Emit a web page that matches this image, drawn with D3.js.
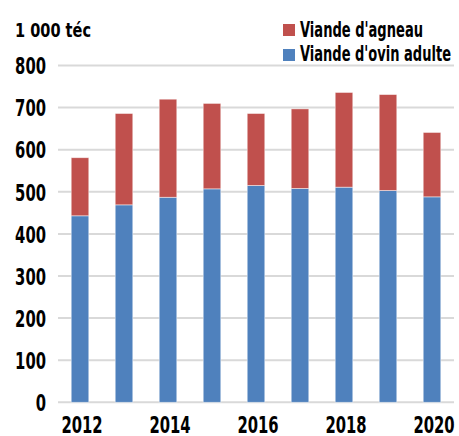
<!DOCTYPE html>
<html>
<head>
<meta charset="utf-8">
<script src="https://cdn.jsdelivr.net/npm/d3@7"></script>
<style>
  html, body { margin: 0; padding: 0; background: #fff; }
  svg text { font-family: "DejaVu Sans Condensed", "DejaVu Sans", sans-serif; font-stretch: condensed; fill: #000; }
</style>
</head>
<body>
<svg id="chart" width="459" height="436"></svg>
<script>
// Production de viande ovine, en milliers de tonnes équivalent carcasse
const years = [2012, 2013, 2014, 2015, 2016, 2017, 2018, 2019, 2020];
const ovinAdulte = [443, 469, 487, 507, 515, 508, 511, 503, 488];
const agneau = [138, 217, 233, 203, 171, 189, 225, 228, 153];
const yTicks = [0, 100, 200, 300, 400, 500, 600, 700, 800];
const xTickLabels = [2012, 2014, 2016, 2018, 2020];
const seriesNames = ["Viande d'agneau", "Viande d'ovin adulte"];
const seriesColors = { ovinAdulte: "#4F81BD", agneau: "#C0504D" };

const svg = d3.select("#chart");
const margin = { left: 58, right: 5, top: 65.5, bottom: 33.7 };
const W = 459, H = 436;
const digitW = 10.3; // advance of one digit in the condensed label face

const x = d3.scaleBand()
  .domain(years)
  .range([margin.left, W - margin.right])
  .paddingInner(0.6)
  .paddingOuter(0.3);

const y = d3.scaleLinear()
  .domain([0, 800])
  .range([H - margin.bottom, margin.top]);

// Gridlines
svg.append("g")
  .selectAll("line")
  .data(yTicks)
  .join("line")
  .attr("x1", margin.left)
  .attr("x2", W - margin.right)
  .attr("y1", d => y(d))
  .attr("y2", d => y(d))
  .attr("stroke", "#d9d9d9")
  .attr("stroke-width", 2);

// Y axis labels
const yAxis = d3.axisLeft(y).tickValues(yTicks).tickSize(0).tickPadding(0).tickFormat(d3.format("d"));
const gy = svg.append("g").attr("transform", `translate(${margin.left - 12},0)`).call(yAxis);
gy.select(".domain").remove();
gy.selectAll("text")
  .style("font-size", "23px")
  .style("font-weight", "bold")
  .attr("dy", "0.36em")
  .attr("textLength", d => String(d).length * digitW)
  .attr("lengthAdjust", "spacingAndGlyphs");

// X axis labels
const xAxis = d3.axisBottom(x).tickValues(xTickLabels).tickSize(0).tickPadding(0);
const gx = svg.append("g").attr("transform", `translate(2,${H - margin.bottom})`).call(xAxis);
gx.select(".domain").remove();
gx.selectAll("text")
  .style("font-size", "23px")
  .style("font-weight", "bold")
  .attr("y", 31)
  .attr("dy", 0)
  .attr("textLength", d => String(d).length * digitW)
  .attr("lengthAdjust", "spacingAndGlyphs");

// Stacked bars
const rows = years.map((yr, i) => ({ year: yr, ovinAdulte: ovinAdulte[i], agneau: agneau[i] }));
const stack = d3.stack().keys(["ovinAdulte", "agneau"])(rows);

svg.append("g")
  .selectAll("g")
  .data(stack)
  .join("g")
  .attr("fill", d => seriesColors[d.key])
  .selectAll("rect")
  .data(d => d)
  .join("rect")
  .attr("x", d => x(d.data.year))
  .attr("width", x.bandwidth())
  .attr("y", d => y(d[1]))
  .attr("height", d => y(d[0]) - y(d[1]))
  .attr("stroke", "rgba(255,255,255,0.6)")
  .attr("stroke-width", 0.8);

// Unit label
svg.append("text")
  .attr("x", 15)
  .attr("y", 37)
  .style("font-size", "20px")
  .style("font-weight", "bold")
  .attr("textLength", 76)
  .attr("lengthAdjust", "spacingAndGlyphs")
  .text("1 000 téc");

// Legend
const legend = svg.append("g");
const legendKeys = ["agneau", "ovinAdulte"];
const legendWidths = [123, 151];
legendKeys.forEach((k, i) => {
  const ly = 24 + i * 25;
  legend.append("rect")
    .attr("x", 283).attr("y", ly)
    .attr("width", 12).attr("height", 12)
    .attr("fill", seriesColors[k]);
  legend.append("text")
    .attr("x", 300).attr("y", 37 + i * 23.5)
    .style("font-size", "22px")
    .style("font-weight", "bold")
    .attr("textLength", legendWidths[i])
    .attr("lengthAdjust", "spacingAndGlyphs")
    .text(seriesNames[i]);
});
</script>
</body>
</html>
